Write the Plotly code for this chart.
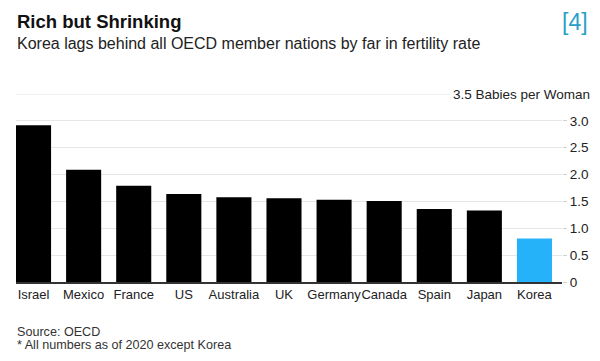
import plotly.graph_objects as go

countries = ["Israel", "Mexico", "France", "US", "Australia", "UK", "Germany", "Canada", "Spain", "Japan", "Korea"]
fertility = [2.92, 2.09, 1.79, 1.64, 1.58, 1.56, 1.53, 1.51, 1.36, 1.33, 0.81]
highlight = "Korea"
tick_vals = [0, 0.5, 1.0, 1.5, 2.0, 2.5, 3.0]
tick_text = ["0", "0.5", "1.0", "1.5", "2.0", "2.5", "3.0"]
top_value = 3.5

colors = ["#26b2f8" if c == highlight else "#000000" for c in countries]

FONT = "Liberation Sans, Arial, sans-serif"

fig = go.Figure(go.Bar(
    x=countries, y=fertility, marker=dict(color=colors, line=dict(width=0)),
    hoverinfo="x+y",
))

fig.update_layout(
    width=600, height=361,
    margin=dict(l=16, r=38, t=94, b=79),
    paper_bgcolor="white", plot_bgcolor="white",
    bargap=0.3,
    showlegend=False,
    font=dict(family=FONT, color="#333333", size=13),
    xaxis=dict(
        range=[-0.35, 10.55], showgrid=False, showline=True, linecolor="#333333",
        linewidth=1.5, ticks="", tickangle=0, tickfont=dict(size=13, color="#222222"),
        fixedrange=True,
    ),
    yaxis=dict(
        range=[0, top_value], side="right", tickvals=tick_vals, ticktext=tick_text,
        showgrid=True, gridcolor="#e6e6e6", gridwidth=1, zeroline=False,
        ticks="outside", ticklen=4, tickcolor="#d0d0d0",
        tickfont=dict(size=13.5, color="#222222"), fixedrange=True,
    ),
    shapes=[dict(type="line", xref="paper", yref="y", x0=0, x1=0.795,
                 y0=top_value, y1=top_value, line=dict(color="#e0e0e0", width=1))],
    annotations=[
        dict(text="<b>Rich but Shrinking</b>", xref="paper", yref="paper", x=-0.002, y=1.383,
             xanchor="left", yanchor="middle", showarrow=False,
             font=dict(size=18.5, color="#111111", family=FONT)),
        dict(text="Korea lags behind all OECD member nations by far in fertility rate",
             xref="paper", yref="paper", x=-0.002, y=1.271, xanchor="left", yanchor="middle",
             showarrow=False, font=dict(size=16, color="#222222", family=FONT)),
        dict(text="[4]", xref="paper", yref="paper", x=1.051, y=1.383, xanchor="right",
             yanchor="middle", showarrow=False, font=dict(size=23, color="#2a9fc9", family=FONT)),
        dict(text=f"{top_value} Babies per Woman", xref="paper", yref="y", x=1.055, y=top_value,
             xanchor="right", yanchor="middle", showarrow=False,
             font=dict(size=13.5, color="#222222", family=FONT)),
        dict(text="Source: OECD", xref="paper", yref="paper", x=-0.002, y=-0.264,
             xanchor="left", yanchor="middle", showarrow=False,
             font=dict(size=12.6, color="#333333", family=FONT)),
        dict(text="* All numbers as of 2020 except Korea", xref="paper", yref="paper", x=-0.002,
             y=-0.335, xanchor="left", yanchor="middle", showarrow=False,
             font=dict(size=12.6, color="#333333", family=FONT)),
    ],
)

fig.write_html("out.html", config={"displayModeBar": False},
               post_script="document.body.style.margin='0';document.body.style.overflow='hidden';")
